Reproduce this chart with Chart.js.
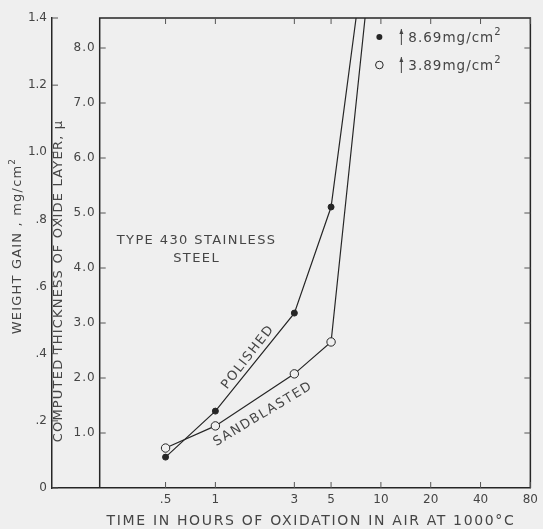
<!DOCTYPE html>
<html>
<head>
<meta charset="utf-8">
<script src="https://cdn.jsdelivr.net/npm/chart.js@4"></script>
<style>
  html, body { margin: 0; padding: 0; background: #efefef; }
</style>
</head>
<body>
<canvas id="oxidationChart" width="543" height="529"></canvas>
<script>
// Values
const timeHours = [0.5, 1, 3, 5];
const polishedGain = [0.092, 0.229, 0.521, 0.837];
const sandblastedGain = [0.119, 0.185, 0.340, 0.435];
// both curves leave the top of the scale (1.4) on their way to the final gains
const exitTimes = [7.08, 8.02];
const finalGain = [8.69, 3.89];

const xTicks = [0.5, 1, 3, 5, 10, 20, 40, 80];
const gainTicks = [0, 0.2, 0.4, 0.6, 0.8, 1.0, 1.2, 1.4];
const thicknessTicks = [1, 2, 3, 4, 5, 6, 7, 8];
const muPerMg = 6.104;   // microns of oxide per mg/cm2

// Colors / fonts
const ink = '#262626';
const textGray = '#454545';
const paper = '#efefef';
const face = '"DejaVu Sans", sans-serif';

const gainMax = 1.4;

function series(gains, exitTime) {
  const pts = timeHours.map((t, i) => ({ x: t, y: gains[i] }));
  pts.push({ x: exitTime, y: gainMax });
  return pts;
}

function spaced(ctx, text, x, y, spacing, align) {
  ctx.letterSpacing = spacing + 'px';
  ctx.textAlign = align || 'center';
  ctx.fillText(text, x, y);
  ctx.letterSpacing = '0px';
}

// text followed by a raised "2"
function withSquare(ctx, text, x, y, size, spacing, align) {
  ctx.font = size + 'px ' + face;
  ctx.letterSpacing = spacing + 'px';
  const w = ctx.measureText(text).width;
  ctx.font = Math.round(size * 0.72) + 'px ' + face;
  const w2 = ctx.measureText('2').width;
  let left = x;
  if (align === 'center') left = x - (w + w2) / 2;
  ctx.textAlign = 'left';
  ctx.font = size + 'px ' + face;
  ctx.fillText(text, left, y);
  ctx.font = Math.round(size * 0.72) + 'px ' + face;
  ctx.fillText('2', left + w, y - size * 0.42);
  ctx.letterSpacing = '0px';
}

// PAPER PLUGIN
// background, inner thickness axis, frame, inward ticks and lettering
const paperPlugin = {
  id: 'paper',
  beforeDraw(chart) {
    const ctx = chart.ctx;
    ctx.save();
    ctx.fillStyle = paper;
    ctx.fillRect(0, 0, chart.width, chart.height);
    ctx.restore();
  },
  afterDraw(chart) {
    const { ctx, chartArea: a, scales: { x, y, y2 } } = chart;
    const innerX = x.getPixelForValue(0.2);
    ctx.save();

    // inner axis + top and right frame
    ctx.strokeStyle = ink;
    ctx.lineWidth = 1.5;
    ctx.beginPath();
    ctx.moveTo(innerX, a.bottom);
    ctx.lineTo(innerX, a.top);
    ctx.lineTo(a.right, a.top);
    ctx.lineTo(a.right, a.bottom);
    ctx.stroke();

    // inward ticks
    ctx.lineWidth = 1;
    ctx.strokeStyle = '#555';
    ctx.beginPath();
    xTicks.forEach(v => {
      const px = x.getPixelForValue(v);
      ctx.moveTo(px, a.bottom); ctx.lineTo(px, a.bottom - 6);
      ctx.moveTo(px, a.top); ctx.lineTo(px, a.top + 6);
    });
    gainTicks.forEach(v => {
      const py = y.getPixelForValue(v);
      ctx.moveTo(a.left, py); ctx.lineTo(a.left + 6, py);
    });
    thicknessTicks.forEach(v => {
      const py = y2.getPixelForValue(v);
      ctx.moveTo(innerX, py); ctx.lineTo(innerX + 6, py);
      ctx.moveTo(a.right, py); ctx.lineTo(a.right - 6, py);
    });
    ctx.stroke();

    // thickness tick labels
    ctx.fillStyle = textGray;
    ctx.font = '12px ' + face;
    ctx.textBaseline = 'middle';
    thicknessTicks.forEach(v => {
      spaced(ctx, v.toFixed(1), innerX - 4, y2.getPixelForValue(v), 1, 'right');
    });

    // axis titles
    ctx.save();
    ctx.translate(18, (a.top + a.bottom) / 2 - 7);
    ctx.rotate(-Math.PI / 2);
    withSquare(ctx, 'WEIGHT GAIN , mg/cm', 0, 0, 13, 1.2, 'center');
    ctx.restore();

    ctx.font = '13px ' + face;
    ctx.save();
    ctx.translate(59, (a.top + a.bottom) / 2 + 28);
    ctx.rotate(-Math.PI / 2);
    spaced(ctx, 'COMPUTED THICKNESS OF OXIDE LAYER, μ', 0, 0, 1.2);
    ctx.restore();

    ctx.font = '14px ' + face;
    spaced(ctx, 'TIME IN HOURS OF OXIDATION IN AIR AT 1000°C', 311, 521, 1.65);

    // notes in the plot
    ctx.font = '13px ' + face;
    spaced(ctx, 'TYPE 430 STAINLESS', x.getPixelForValue(0.77), y.getPixelForValue(0.736), 1.4);
    spaced(ctx, 'STEEL', x.getPixelForValue(0.77), y.getPixelForValue(0.682), 1.4);

    ctx.save();
    ctx.translate(x.getPixelForValue(1.576), y.getPixelForValue(0.39));
    ctx.rotate(-52 * Math.PI / 180);
    spaced(ctx, 'POLISHED', 0, 0, 1.5);
    ctx.restore();

    ctx.save();
    ctx.translate(x.getPixelForValue(1.94), y.getPixelForValue(0.22));
    ctx.rotate(-31 * Math.PI / 180);
    spaced(ctx, 'SANDBLASTED', 0, 0, 1.5);
    ctx.restore();

    // key for the off-scale final values
    const keyX = a.right - 151;
    const rows = [a.top + 19, a.top + 47];
    rows.forEach((ry, i) => {
      ctx.beginPath();
      ctx.arc(keyX, ry, i === 0 ? 3 : 3.8, 0, Math.PI * 2);
      if (i === 0) { ctx.fillStyle = ink; ctx.fill(); }
      else { ctx.strokeStyle = ink; ctx.lineWidth = 1; ctx.stroke(); }
      // little up arrow
      ctx.strokeStyle = '#444';
      ctx.lineWidth = 1;
      ctx.beginPath();
      ctx.moveTo(keyX + 22, ry + 8);
      ctx.lineTo(keyX + 22, ry - 8);
      ctx.stroke();
      ctx.fillStyle = '#444';
      ctx.beginPath();
      ctx.moveTo(keyX + 22, ry - 8);
      ctx.lineTo(keyX + 20, ry - 3);
      ctx.lineTo(keyX + 24, ry - 3);
      ctx.fill();
      ctx.fillStyle = textGray;
      withSquare(ctx, finalGain[i].toFixed(2) + 'mg/cm', keyX + 29, ry + 1, 13.5, 1, 'left');
    });

    ctx.restore();
  }
};

// LINE CHART
// weight gain vs time (log)
const ctx = document.getElementById('oxidationChart').getContext('2d');
new Chart(ctx, {
  type: 'line',
  data: {
    datasets: [
      {
        label: 'Polished',
        data: series(polishedGain, exitTimes[0]),
        borderColor: ink,
        borderWidth: 1.2,
        backgroundColor: ink,
        pointBackgroundColor: ink,
        pointBorderColor: ink,
        pointRadius: [3, 3, 3, 3, 0],
        pointBorderWidth: 1,
        fill: false,
        tension: 0
      },
      {
        label: 'Sandblasted',
        data: series(sandblastedGain, exitTimes[1]),
        borderColor: ink,
        borderWidth: 1.2,
        backgroundColor: paper,
        pointBackgroundColor: paper,
        pointBorderColor: ink,
        pointRadius: [4.2, 4.2, 4.2, 4.2, 0],
        pointBorderWidth: 1,
        fill: false,
        tension: 0
      }
    ]
  },
  options: {
    responsive: false,
    animation: false,
    events: [],
    layout: { padding: { top: 18, right: 11, left: 0, bottom: 0 } },
    plugins: {
      legend: { display: false },
      tooltip: { enabled: false }
    },
    scales: {
      x: {
        type: 'logarithmic',
        min: 0.103,
        max: 80,
        afterBuildTicks: scale => { scale.ticks = xTicks.map(v => ({ value: v })); },
        afterFit: scale => { scale.height = 41; },
        ticks: {
          color: textGray,
          font: { family: face, size: 12 },
          padding: 5,
          autoSkip: false,
          maxRotation: 0,
          callback: v => (v === 0.5 ? '.5' : String(v))
        },
        grid: { drawOnChartArea: false, drawTicks: false },
        border: { color: ink, width: 1.5 }
      },
      y: {
        min: 0,
        max: gainMax,
        afterBuildTicks: scale => { scale.ticks = gainTicks.map(v => ({ value: v })); },
        afterFit: scale => { scale.width = 52; },
        ticks: {
          color: textGray,
          font: { family: face, size: 12 },
          padding: 5,
          callback: v => (v === 0 ? '0' : v < 1 ? v.toFixed(1).replace('0.', '.') : v.toFixed(1))
        },
        grid: { drawOnChartArea: false, drawTicks: false },
        border: { color: ink, width: 1.5 }
      },
      y2: {
        display: false,
        min: 0,
        max: gainMax * muPerMg
      }
    }
  },
  plugins: [paperPlugin]
});
</script>
</body>
</html>
